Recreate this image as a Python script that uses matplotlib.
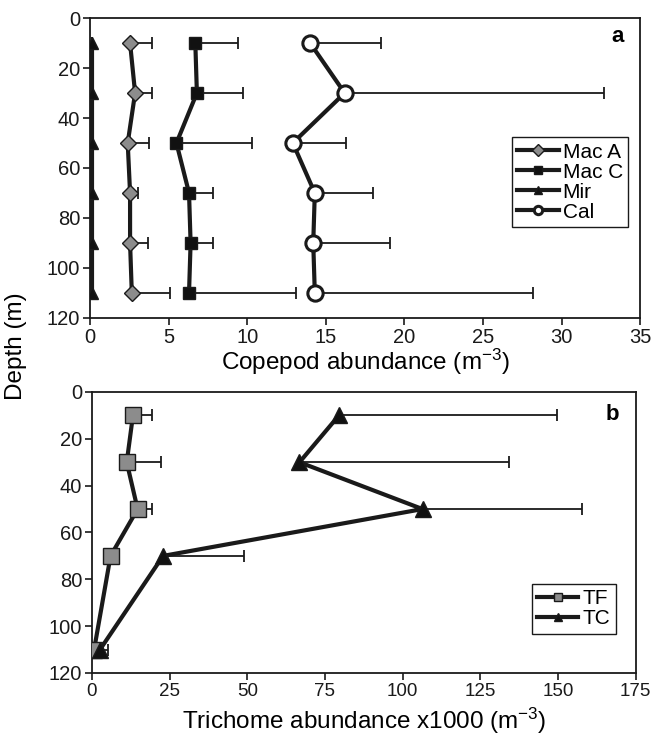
#!/usr/bin/env python3
"""
Depth profiles of copepod and trichome abundance (two panels)
"""

import matplotlib.pyplot as plt

plt.rcParams['font.family'] = ['Liberation Sans', 'DejaVu Sans']
plt.rcParams['mathtext.default'] = 'regular'

# Panel a: copepods
depth_a = [10, 30, 50, 70, 90, 110]
mac_a = [2.55, 2.87, 2.4, 2.55, 2.55, 2.66]
mac_a_err = [1.4, 1.1, 1.35, 0.5, 1.15, 2.45]
mac_c = [6.7, 6.8, 5.5, 6.3, 6.4, 6.3]
mac_c_err = [2.7, 2.95, 4.8, 1.55, 1.4, 6.8]
mir = [0.1, 0.1, 0.1, 0.1, 0.1, 0.1]
mir_err = [0.0, 0.0, 0.0, 0.0, 0.0, 0.0]
cal = [14.0, 16.2, 12.9, 14.3, 14.2, 14.3]
cal_err = [4.5, 16.5, 3.4, 3.7, 4.9, 13.9]

# Panel b: trichomes (x1000)
depth_b = [10, 30, 50, 70, 110]
tf = [13.2, 11.2, 14.7, 6.0, 0.7]
tf_err = [6.0, 11.0, 4.6, 0.0, 0.0]
tc = [79.5, 66.8, 106.4, 22.9, 2.6]
tc_err = [70.2, 67.4, 51.3, 26.2, 2.7]


def profile(ax, x, y, err, label, marker, face, ms, mew=1.0):
    ax.errorbar(x, y, xerr=[[0] * len(err), err], fmt='none',
                ecolor='#1a1a1a', elinewidth=1.3, capsize=4, capthick=1.3,
                zorder=2)
    ax.plot(x, y, color='#1a1a1a', lw=3, marker=marker, ms=ms,
            markerfacecolor=face, markeredgecolor='#1a1a1a',
            markeredgewidth=mew, label=label, zorder=3)


fig = plt.figure(figsize=(6.52, 7.36), dpi=100)
ax1 = fig.add_axes([0.138, 0.568, 0.844, 0.4075])
ax2 = fig.add_axes([0.141, 0.0856, 0.834, 0.3818])

profile(ax1, mac_a, depth_a, mac_a_err, "Mac A", 'D', '#8c8c8c', 8)
profile(ax1, mac_c, depth_a, mac_c_err, "Mac C", 's', '#111111', 9)
profile(ax1, mir, depth_a, mir_err, "Mir", '^', '#111111', 8)
profile(ax1, cal, depth_a, cal_err, "Cal", 'o', 'white', 11, mew=2.2)

profile(ax2, tf, depth_b, tf_err, "TF", 's', '#8c8c8c', 11)
profile(ax2, tc, depth_b, tc_err, "TC", '^', '#111111', 12)

for ax, xmax, xstep in [(ax1, 35, 5), (ax2, 175, 25)]:
    ax.set_ylim(120, 0)
    ax.set_xlim(0, xmax)
    ax.set_xticks(range(0, xmax + 1, xstep))
    ax.set_yticks(range(0, 121, 20))
    ax.tick_params(direction='out', length=5, width=1.2, labelsize=14.5,
                   colors='#1a1a1a', pad=2)
    for s in ax.spines.values():
        s.set_linewidth(1.3)
        s.set_color('#1a1a1a')
ax2.tick_params(axis='x', labelsize=13.5)

ax1.set_xlabel("Copepod abundance (m$^{-3}$)", fontsize=17.5)
ax2.set_xlabel("Trichome abundance x1000 (m$^{-3}$)", fontsize=17.5)
ax1.xaxis.label.set_va('center')
ax2.xaxis.label.set_va('center')
ax1.xaxis.set_label_coords(0.5, -0.147)
ax2.xaxis.set_label_coords(0.5, -0.172)
ax1.text(0.97, 0.94, "a", transform=ax1.transAxes, fontsize=16,
         fontweight='bold', ha='right', va='center')
ax2.text(0.97, 0.92, "b", transform=ax2.transAxes, fontsize=16,
         fontweight='bold', ha='right', va='center')
fig.text(0.025, 0.53, "Depth (m)", rotation=90, fontsize=17.5,
         ha='center', va='center')

leg1 = ax1.legend(loc='center right', bbox_to_anchor=(0.978, 0.453),
                  fontsize=15, handlelength=2.0, handletextpad=0.2,
                  labelspacing=0.05, borderpad=0.25, fancybox=False,
                  borderaxespad=0)
leg2 = ax2.legend(loc='center right', bbox_to_anchor=(0.963, 0.228),
                  fontsize=15, handlelength=2.0, handletextpad=0.2,
                  labelspacing=0.05, borderpad=0.25, fancybox=False,
                  borderaxespad=0, markerscale=0.5)
for leg in (leg1, leg2):
    leg.get_frame().set_edgecolor('#1a1a1a')
    leg.get_frame().set_linewidth(1.0)
    leg.get_frame().set_alpha(1)
for h in leg1.legend_handles:
    h.set_markersize(6)

fig.savefig("out.png", dpi=100)
